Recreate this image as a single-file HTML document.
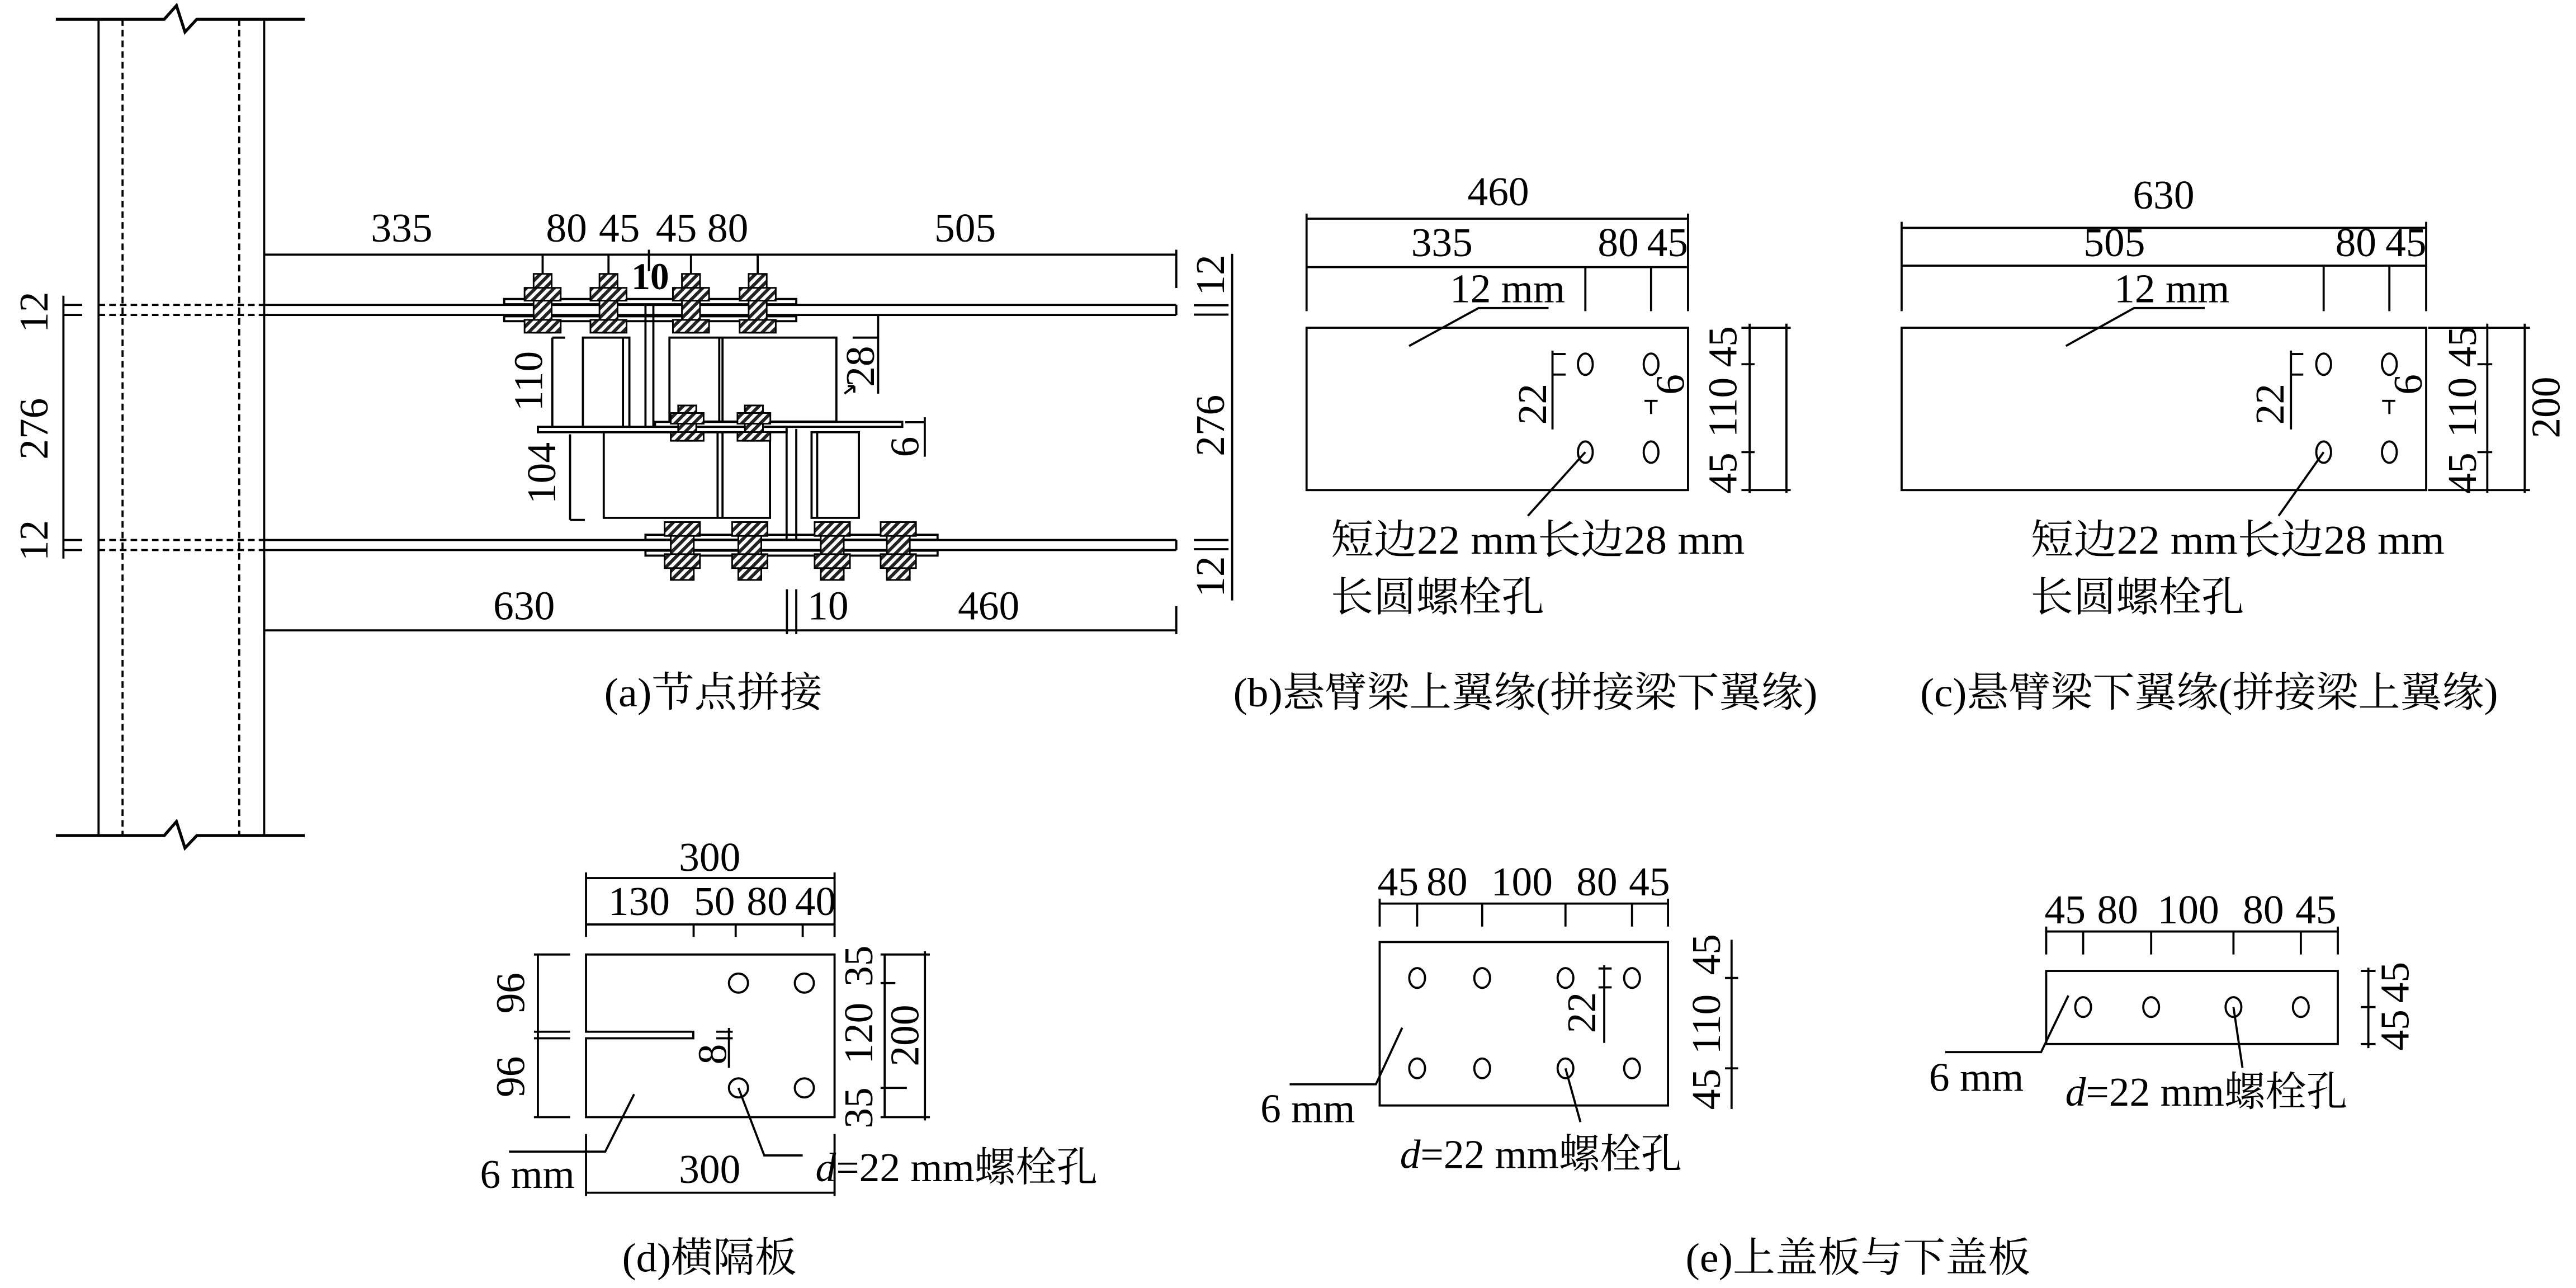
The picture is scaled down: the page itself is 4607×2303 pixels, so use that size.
<!DOCTYPE html>
<html><head><meta charset="utf-8">
<style>
html,body{margin:0;padding:0;background:#fff;}
svg{display:block;}
text{font-family:"Liberation Serif","Noto Serif CJK SC","Noto Sans CJK SC",serif;fill:#000;}
</style></head>
<body>
<svg width="4607" height="2303" viewBox="0 0 1568 784" preserveAspectRatio="none" xmlns="http://www.w3.org/2000/svg">
<defs>
<pattern id="h" width="4" height="4" patternUnits="userSpaceOnUse" patternTransform="rotate(45)">
<rect width="4" height="4" fill="#fff"/><rect width="2" height="4" fill="#222"/>
</pattern>
<g id="tb" stroke="#000" stroke-width="1" fill="url(#h)">
<rect x="-5.5" y="166.7" width="11" height="35.8"/>
<rect x="-11" y="175.2" width="22" height="7.8"/>
<rect x="-11" y="194.7" width="22" height="7.8"/>
</g>
<g id="mb" stroke="#000" stroke-width="1" fill="url(#h)">
<rect x="-5.5" y="246.8" width="11" height="21.5"/>
<rect x="-10" y="251.4" width="20" height="6.5"/>
<rect x="-10" y="263" width="20" height="5.3"/>
</g>
<g id="bb" stroke="#000" stroke-width="1" fill="url(#h)">
<rect x="-7" y="317.8" width="14" height="35.2"/>
<rect x="-10.75" y="317.8" width="21.5" height="8.4"/>
<rect x="-10.75" y="337.3" width="21.5" height="8.5"/>
</g>
</defs>
<rect width="1568" height="784" fill="#fff"/>
<g stroke="#000" fill="none" stroke-width="1.3">
<!-- column -->
<path d="M34 11.7 H100 L107.4 3.4 L112.6 19.5 L119.8 11.7 H185.5" stroke-width="1.8"/>
<path d="M34 508.6 H100 L107.4 500.1 L112.6 516.2 L119.8 508.6 H185.5" stroke-width="1.8"/>
<line x1="60" y1="11.7" x2="60" y2="508.6"/>
<line x1="160.8" y1="11.7" x2="160.8" y2="508.6"/>
<line x1="74.6" y1="11.7" x2="74.6" y2="508.6" stroke-dasharray="4,2.5"/>
<line x1="145.6" y1="11.7" x2="145.6" y2="508.6" stroke-dasharray="4,2.5"/>
<g stroke-dasharray="4,2.5">
<line x1="60" y1="185.6" x2="160.8" y2="185.6"/><line x1="60" y1="191.7" x2="160.8" y2="191.7"/>
<line x1="60" y1="328.7" x2="160.8" y2="328.7"/><line x1="60" y1="334.8" x2="160.8" y2="334.8"/>
</g>
<line x1="160.8" y1="185.6" x2="716" y2="185.6"/><line x1="160.8" y1="191.7" x2="716" y2="191.7"/>
<line x1="160.8" y1="328.7" x2="716" y2="328.7"/><line x1="160.8" y1="334.8" x2="716" y2="334.8"/>
<line x1="716" y1="185.6" x2="716" y2="191.7"/><line x1="716" y1="328.7" x2="716" y2="334.8"/>
<!-- left dims -->
<line x1="38.6" y1="180" x2="38.6" y2="340"/>
<line x1="38.6" y1="185.6" x2="50" y2="185.6"/><line x1="38.6" y1="191.7" x2="50" y2="191.7"/><line x1="38.6" y1="328.7" x2="50" y2="328.7"/><line x1="38.6" y1="334.8" x2="50" y2="334.8"/>
<!-- right dims -->
<line x1="750" y1="154.5" x2="750" y2="365.5"/>
<line x1="726.7" y1="185.8" x2="747.8" y2="185.8"/><line x1="726.7" y1="191.5" x2="747.8" y2="191.5"/>
<line x1="726.7" y1="328.7" x2="747.8" y2="328.7"/><line x1="726.7" y1="334.3" x2="747.8" y2="334.3"/>
<!-- top dim -->
<line x1="160.8" y1="155" x2="716" y2="155"/>
<line x1="716" y1="152" x2="716" y2="175.3"/>
<line x1="330.3" y1="155" x2="330.3" y2="167"/><line x1="370.4" y1="155" x2="370.4" y2="167"/>
<line x1="420.6" y1="155" x2="420.6" y2="167"/><line x1="461.2" y1="155" x2="461.2" y2="167"/>
<line x1="395" y1="152" x2="395" y2="165"/>
<!-- bottom dim -->
<line x1="160.8" y1="383.7" x2="716" y2="383.7"/>
<line x1="160.8" y1="340" x2="160.8" y2="386"/>
<line x1="716" y1="369" x2="716" y2="386"/>
<line x1="479" y1="358.7" x2="479" y2="386"/><line x1="484.7" y1="358.7" x2="484.7" y2="386"/>
<rect x="306.9" y="182" width="177.8" height="3.2"/>
<rect x="306.9" y="192.5" width="177.8" height="3"/>
<rect x="392.9" y="325.5" width="177.8" height="3"/>
<rect x="392.9" y="335.2" width="177.8" height="3"/>
<line x1="392.9" y1="186" x2="392.9" y2="260"/><line x1="397.7" y1="186" x2="397.7" y2="260"/>
<line x1="478.8" y1="261" x2="478.8" y2="328"/><line x1="484.7" y1="261" x2="484.7" y2="328"/>
<rect x="354.8" y="205.5" width="28.3" height="54.3"/><line x1="379.2" y1="205.5" x2="379.2" y2="259.8"/>
<rect x="407.5" y="205.5" width="101.6" height="51.1"/><line x1="437.8" y1="205.5" x2="437.8" y2="256.6"/><line x1="439.8" y1="205.5" x2="439.8" y2="256.6"/>
<rect x="327.4" y="259.8" width="151.4" height="3.3"/>
<rect x="398.7" y="256.8" width="150.5" height="3"/>
<rect x="367.5" y="263.1" width="101.2" height="52.1"/><line x1="436.8" y1="263.1" x2="436.8" y2="315.2"/><line x1="439.8" y1="263.1" x2="439.8" y2="315.2"/>
<rect x="494" y="263.1" width="28.8" height="52.1"/><line x1="497.4" y1="263.1" x2="497.4" y2="315.2"/>
<line x1="336.2" y1="205.5" x2="336.2" y2="259.8"/><line x1="336.2" y1="205.5" x2="344" y2="205.5"/>
<line x1="347" y1="264.4" x2="347" y2="316.5"/><line x1="347" y1="316.5" x2="356" y2="316.5"/>
<line x1="534.5" y1="192" x2="534.5" y2="239.6"/><line x1="519" y1="205.5" x2="534.5" y2="205.5"/>
<path d="M514 239.6 L520 235 M520 235 L516 235 M520 235 L520 239"/>
<line x1="551" y1="257" x2="562.9" y2="257"/><line x1="562.9" y1="254" x2="562.9" y2="278"/>
</g>
<use href="#tb" x="330.3"/><use href="#tb" x="370.4"/><use href="#tb" x="420.6"/><use href="#tb" x="461.2"/>
<use href="#mb" x="418.3"/><use href="#mb" x="458.9"/>
<use href="#bb" x="415.3"/><use href="#bb" x="456.4"/><use href="#bb" x="506.6"/><use href="#bb" x="546.8"/>
<g font-size="25" text-anchor="middle">
<text x="244.5" y="147">335</text>
<text x="344.8" y="147">80</text><text x="377" y="147">45</text><text x="411.7" y="147">45</text><text x="443" y="147">80</text>
<text x="587.5" y="147">505</text>
<text x="395.8" y="176" font-weight="bold" font-size="23">10</text>
<text x="319" y="377">630</text><text x="504" y="377">10</text><text x="601.8" y="377">460</text>
<text transform="translate(29,190) rotate(-90)">12</text>
<text transform="translate(29,261) rotate(-90)">276</text>
<text transform="translate(29,329) rotate(-90)">12</text>
<text transform="translate(745,167.5) rotate(-90)">12</text>
<text transform="translate(745,259) rotate(-90)">276</text>
<text transform="translate(745,351) rotate(-90)">12</text>
<text transform="translate(330,232) rotate(-90)">110</text>
<text transform="translate(338,288) rotate(-90)">104</text>
<text transform="translate(532,223) rotate(-90)">28</text>
<text transform="translate(559,272) rotate(-90)">6</text>
</g>
<g font-size="25">
<text x="367.8" y="430" textLength="132.8" lengthAdjust="spacingAndGlyphs">(a)节点拼接</text>
<text x="750.7" y="430" textLength="355.6" lengthAdjust="spacingAndGlyphs">(b)悬臂梁上翼缘(拼接梁下翼缘)</text>
<text x="1168.8" y="430" textLength="351.7" lengthAdjust="spacingAndGlyphs">(c)悬臂梁下翼缘(拼接梁上翼缘)</text>
<text x="378.7" y="774" textLength="106.3" lengthAdjust="spacingAndGlyphs">(d)横隔板</text>
<text x="1026" y="774" textLength="210" lengthAdjust="spacingAndGlyphs">(e)上盖板与下盖板</text>
</g>

<!-- panel b -->
<g stroke="#000" fill="none" stroke-width="1.3">
<rect x="795.3" y="199.5" width="232.2" height="98.8"/>
<line x1="795.3" y1="133.1" x2="1027.5" y2="133.1"/>
<line x1="795.3" y1="162.6" x2="1027.5" y2="162.6"/>
<line x1="795.3" y1="130" x2="795.3" y2="189.4"/><line x1="965" y1="162.6" x2="965" y2="189.4"/>
<line x1="1005" y1="162.6" x2="1005" y2="189.4"/><line x1="1027.5" y1="130" x2="1027.5" y2="189.4"/>
<ellipse cx="965" cy="221.7" rx="4.5" ry="6.5"/><ellipse cx="1005" cy="221.7" rx="4.5" ry="6.5"/>
<ellipse cx="965" cy="275.2" rx="4.5" ry="6.5"/><ellipse cx="1005" cy="275.2" rx="4.5" ry="6.5"/>
<path d="M857.7 210.6 L900 187.5 H942.6"/>
<line x1="945" y1="213.4" x2="945" y2="261.4"/><line x1="945" y1="215.5" x2="953" y2="215.5"/><line x1="945" y1="228" x2="953" y2="228"/>
<line x1="1005" y1="244" x2="1005" y2="252"/><line x1="1001" y1="244" x2="1009" y2="244"/>
<path d="M965 275.2 L930 314"/>
<line x1="1065" y1="197" x2="1065" y2="300"/><line x1="1087.4" y1="197" x2="1087.4" y2="300"/>
<line x1="1060" y1="199.5" x2="1090" y2="199.5"/><line x1="1060" y1="298.3" x2="1090" y2="298.3"/>
<line x1="1060" y1="221.7" x2="1068" y2="221.7"/><line x1="1060" y1="275.2" x2="1068" y2="275.2"/>
</g>
<g font-size="25" text-anchor="middle">
<text x="912" y="125">460</text>
<text x="877.7" y="156">335</text><text x="985" y="156">80</text><text x="1015" y="156">45</text>
<text x="917.6" y="184">12 mm</text>
<text transform="translate(941,246) rotate(-90)">22</text>
<text transform="translate(1025,234) rotate(-90)">6</text>
<text transform="translate(1057,211) rotate(-90)">45</text>
<text transform="translate(1057,248) rotate(-90)">110</text>
<text transform="translate(1057,288) rotate(-90)">45</text>
</g>
<g font-size="25">
<text x="810" y="337" textLength="252" lengthAdjust="spacingAndGlyphs">短边22 mm长边28 mm</text>
<text x="810" y="372" textLength="130" lengthAdjust="spacingAndGlyphs">长圆螺栓孔</text>
</g>

<!-- panel c -->
<g stroke="#000" fill="none" stroke-width="1.3">
<rect x="1157.5" y="199.5" width="319.3" height="98.8"/>
<line x1="1157.5" y1="138.7" x2="1476.8" y2="138.7"/>
<line x1="1157.5" y1="161.7" x2="1476.8" y2="161.7"/>
<line x1="1157.5" y1="135" x2="1157.5" y2="189.4"/><line x1="1414.4" y1="161.7" x2="1414.4" y2="189.4"/>
<line x1="1454.4" y1="161.7" x2="1454.4" y2="189.4"/><line x1="1476.8" y1="135" x2="1476.8" y2="189.4"/>
<ellipse cx="1414.4" cy="221.7" rx="4.5" ry="6.5"/><ellipse cx="1454.4" cy="221.7" rx="4.5" ry="6.5"/>
<ellipse cx="1414.4" cy="275.2" rx="4.5" ry="6.5"/><ellipse cx="1454.4" cy="275.2" rx="4.5" ry="6.5"/>
<path d="M1257.5 210.6 L1299 187.5 H1342"/>
<line x1="1394.5" y1="213.4" x2="1394.5" y2="261.4"/><line x1="1394.5" y1="215.5" x2="1402" y2="215.5"/><line x1="1394.5" y1="228" x2="1402" y2="228"/>
<line x1="1454.4" y1="244" x2="1454.4" y2="252"/><line x1="1450" y1="244" x2="1458" y2="244"/>
<path d="M1414.4 275.2 L1387 314"/>
<line x1="1514" y1="197" x2="1514" y2="300"/><line x1="1536.8" y1="197" x2="1536.8" y2="300"/>
<line x1="1478" y1="199.5" x2="1540" y2="199.5"/><line x1="1478" y1="298.3" x2="1540" y2="298.3"/>
<line x1="1508" y1="221.7" x2="1517" y2="221.7"/><line x1="1508" y1="275.2" x2="1517" y2="275.2"/>
</g>
<g font-size="25" text-anchor="middle">
<text x="1317" y="127">630</text>
<text x="1287" y="156">505</text><text x="1434" y="156">80</text><text x="1464.5" y="156">45</text>
<text x="1322" y="184">12 mm</text>
<text transform="translate(1390,246) rotate(-90)">22</text>
<text transform="translate(1474,234) rotate(-90)">6</text>
<text transform="translate(1507,211) rotate(-90)">45</text>
<text transform="translate(1507,248) rotate(-90)">110</text>
<text transform="translate(1507,288) rotate(-90)">45</text>
<text transform="translate(1558,248) rotate(-90)">200</text>
</g>
<g font-size="25">
<text x="1236" y="337" textLength="252" lengthAdjust="spacingAndGlyphs">短边22 mm长边28 mm</text>
<text x="1236" y="372" textLength="130" lengthAdjust="spacingAndGlyphs">长圆螺栓孔</text>
</g>

<!-- panel d -->
<g stroke="#000" fill="none" stroke-width="1.3">
<path d="M356.7 581 H508 V680 H356.7 V632 H422 V628 H356.7 Z"/>
<line x1="356.7" y1="534.5" x2="508" y2="534.5"/><line x1="356.7" y1="562.7" x2="508" y2="562.7"/>
<line x1="356.7" y1="531" x2="356.7" y2="570.3"/><line x1="508" y1="531" x2="508" y2="570.3"/>
<line x1="422.2" y1="562.7" x2="422.2" y2="570.3"/><line x1="447.8" y1="562.7" x2="447.8" y2="570.3"/><line x1="488.6" y1="562.7" x2="488.6" y2="570.3"/>
<circle cx="449.5" cy="598.4" r="5.8"/><circle cx="489.6" cy="598.4" r="5.8"/>
<circle cx="449.5" cy="662.2" r="5.8"/><circle cx="489.6" cy="662.2" r="5.8"/>
<line x1="327.4" y1="581" x2="327.4" y2="680"/>
<line x1="325" y1="581" x2="347" y2="581"/><line x1="325" y1="628" x2="347" y2="628"/><line x1="325" y1="632" x2="347" y2="632"/><line x1="325" y1="680" x2="347" y2="680"/>
<line x1="538.5" y1="581" x2="538.5" y2="680"/><line x1="563" y1="579" x2="563" y2="682"/>
<line x1="536" y1="598.4" x2="545" y2="598.4"/><line x1="536" y1="662.2" x2="552" y2="662.2"/>
<line x1="536" y1="581" x2="566" y2="581"/><line x1="536" y1="680" x2="566" y2="680"/>
<line x1="443.7" y1="625.7" x2="443.7" y2="650"/><line x1="436" y1="628" x2="446" y2="628"/><line x1="436" y1="632" x2="446" y2="632"/>
<line x1="356.7" y1="690.3" x2="356.7" y2="728"/><line x1="508" y1="690.3" x2="508" y2="728"/>
<line x1="356.7" y1="726" x2="508" y2="726"/>
<path d="M386 666 L368.4 701 H309.8"/>
<path d="M449.5 662.2 L465.2 703.3 H488.6"/>
</g>
<g font-size="25" text-anchor="middle">
<text x="432" y="530">300</text>
<text x="389" y="557">130</text><text x="434.9" y="557">50</text><text x="467" y="557">80</text><text x="496.4" y="557">40</text>
<text transform="translate(319,604.5) rotate(-90)">96</text>
<text transform="translate(319,655.4) rotate(-90)">96</text>
<text transform="translate(531,588) rotate(-90)">35</text>
<text transform="translate(531,629) rotate(-90)">120</text>
<text transform="translate(531,674.4) rotate(-90)">35</text>
<text transform="translate(559,630.3) rotate(-90)">200</text>
<text transform="translate(442,641.7) rotate(-90)">8</text>
<text x="432" y="720">300</text>
<text x="321" y="723">6 mm</text>
</g>
<text x="496.4" y="719" font-size="25"><tspan font-style="italic">d</tspan>=22 mm螺栓孔</text>

<!-- panel e left -->
<g stroke="#000" fill="none" stroke-width="1.3">
<rect x="839.8" y="573.4" width="175.5" height="99.5"/>
<line x1="839.8" y1="550" x2="1015.3" y2="550"/>
<line x1="839.8" y1="547" x2="839.8" y2="564"/><line x1="862.6" y1="550" x2="862.6" y2="564"/><line x1="902.2" y1="550" x2="902.2" y2="564"/>
<line x1="952.9" y1="550" x2="952.9" y2="564"/><line x1="993.4" y1="550" x2="993.4" y2="564"/><line x1="1015.3" y1="547" x2="1015.3" y2="564"/>
<ellipse cx="862.6" cy="595.3" rx="4.8" ry="6"/><ellipse cx="902.2" cy="595.3" rx="4.8" ry="6"/><ellipse cx="952.9" cy="595.3" rx="4.8" ry="6"/><ellipse cx="993.4" cy="595.3" rx="4.8" ry="6"/>
<ellipse cx="862.6" cy="650.3" rx="4.8" ry="6"/><ellipse cx="902.2" cy="650.3" rx="4.8" ry="6"/><ellipse cx="952.9" cy="650.3" rx="4.8" ry="6"/><ellipse cx="993.4" cy="650.3" rx="4.8" ry="6"/>
<line x1="1054" y1="572" x2="1054" y2="675"/>
<line x1="1050" y1="595.3" x2="1058" y2="595.3"/><line x1="1050" y1="650.3" x2="1058" y2="650.3"/>
<line x1="976.5" y1="587.5" x2="976.5" y2="634.8"/><line x1="973" y1="589.5" x2="981" y2="589.5"/><line x1="973" y1="601" x2="981" y2="601"/>
<path d="M853.5 625.6 L837.5 660 H785"/>
<path d="M952.9 650.3 L962 683"/>
</g>
<g font-size="25" text-anchor="middle">
<text x="851" y="545">45</text><text x="880.8" y="545">80</text><text x="926.4" y="545">100</text><text x="972" y="545">80</text><text x="1004" y="545">45</text>
<text transform="translate(1047,581) rotate(-90)">45</text>
<text transform="translate(1047,623.5) rotate(-90)">110</text>
<text transform="translate(1047,663) rotate(-90)">45</text>
<text transform="translate(971,616.4) rotate(-90)">22</text>
<text x="796" y="683">6 mm</text>
</g>
<text x="938" y="711" font-size="25" text-anchor="middle"><tspan font-style="italic">d</tspan>=22 mm螺栓孔</text>

<!-- panel e right -->
<g stroke="#000" fill="none" stroke-width="1.3">
<rect x="1245.5" y="591" width="177.5" height="44.5"/>
<line x1="1245.5" y1="567" x2="1423" y2="567"/>
<line x1="1245.5" y1="564" x2="1245.5" y2="581"/><line x1="1268" y1="567" x2="1268" y2="581"/><line x1="1309.4" y1="567" x2="1309.4" y2="581"/>
<line x1="1359.5" y1="567" x2="1359.5" y2="581"/><line x1="1400.5" y1="567" x2="1400.5" y2="581"/><line x1="1423" y1="564" x2="1423" y2="581"/>
<ellipse cx="1268" cy="613" rx="4.8" ry="6"/><ellipse cx="1309.4" cy="613" rx="4.8" ry="6"/><ellipse cx="1359.5" cy="613" rx="4.8" ry="6"/><ellipse cx="1400.5" cy="613" rx="4.8" ry="6"/>
<line x1="1441.6" y1="589" x2="1441.6" y2="638"/>
<line x1="1437" y1="591" x2="1446" y2="591"/><line x1="1437" y1="613" x2="1446" y2="613"/><line x1="1437" y1="635.5" x2="1446" y2="635.5"/>
<path d="M1259 606 L1242.4 640.4 H1184"/>
<path d="M1359.5 613 L1365 650"/>
</g>
<g font-size="25" text-anchor="middle">
<text x="1257" y="562">45</text><text x="1289" y="562">80</text><text x="1332" y="562">100</text><text x="1377.7" y="562">80</text><text x="1409.7" y="562">45</text>
<text transform="translate(1466,598) rotate(-90)">45</text>
<text transform="translate(1466,627) rotate(-90)">45</text>
<text x="1203" y="664">6 mm</text>
</g>
<text x="1343" y="673" font-size="25" text-anchor="middle"><tspan font-style="italic">d</tspan>=22 mm螺栓孔</text>
</svg>
</body></html>
